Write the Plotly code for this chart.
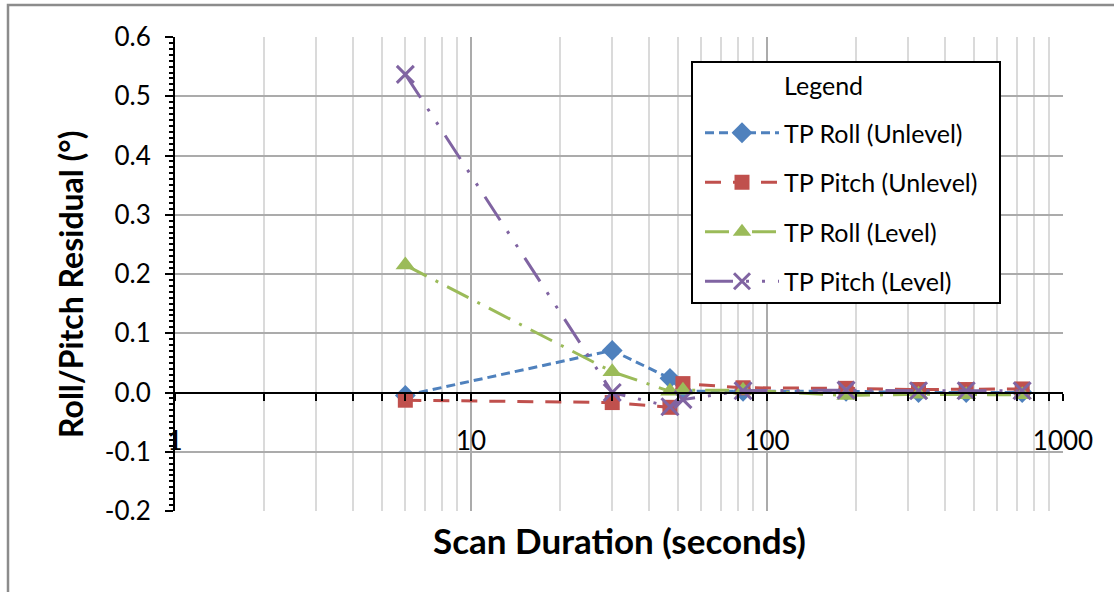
import plotly.graph_objects as go

# ---- data ----
scan_duration = [6, 30, 47, 52, 83, 185, 325, 471, 728]
roll_unlevel = [-0.005, 0.071, 0.024, 0.002, 0.002, 0.002, 0.0, 0.0, 0.0]
pitch_unlevel = [-0.013, -0.017, -0.025, 0.015, 0.008, 0.007, 0.005, 0.005, 0.006]
roll_level = [0.215, 0.035, 0.002, 0.004, 0.004, -0.005, -0.003, -0.004, -0.004]
pitch_level = [0.537, 0.0, -0.024, -0.012, 0.003, 0.004, 0.003, 0.003, 0.003]

series_names = ["TP Roll (Unlevel)", "TP Pitch (Unlevel)", "TP Roll (Level)", "TP Pitch (Level)"]
y_tickvals = [-0.2, -0.1, 0.0, 0.1, 0.2, 0.3, 0.4, 0.5, 0.6]
y_ticktext = ["-0.2", "-0.1", "0.0", "0.1", "0.2", "0.3", "0.4", "0.5", "0.6"]
x_tickvals = [1, 10, 100, 1000]
x_ticktext = ["1", "10", "100", "1000"]
x_minor = [m * d for d in (1, 10, 100) for m in range(2, 10)]
y_minor = [round(-0.2 + 0.01 * i, 2) for i in range(81)]

FONT = "Lato"
BLUE, RED, GREEN, PURPLE = "#4F81BD", "#C0504D", "#9BBB59", "#8064A2"

fig = go.Figure()
styles = [
    (roll_unlevel, BLUE, "9px,5px", dict(symbol="diamond", size=16)),
    (pitch_unlevel, RED, "16px,12px", dict(symbol="square", size=15)),
    (roll_level, GREEN, "24px,10px,3px,10px", dict(symbol="triangle-up", size=17)),
    (pitch_level, PURPLE, "28px,13px,3px,13px,3px,13px", dict(symbol="x-thin", size=17)),
]
for i, (vals, col, dash, mk) in enumerate(styles):
    fig.add_trace(go.Scatter(
        x=scan_duration, y=vals, mode="lines+markers", name=series_names[i],
        legendgroup=f"g{i}",
        line=dict(color=col, width=3, dash=dash),
        marker=dict(color=col, line=dict(color=col, width=3 if mk["symbol"] == "x-thin" else 0), **mk),
    ))

L, R, T, B = 175, 1063, 37, 511
W, H = 1114, 592
def px(x):
    return (x - L) / (R - L)
def py(y):
    return (B - y) / (B - T)

fig.update_layout(
    width=W, height=H,
    margin=dict(l=L, r=W - R, t=T, b=H - B),
    paper_bgcolor="white", plot_bgcolor="white",
    font=dict(family=FONT, size=25, color="black"),
    showlegend=True,
    legend=dict(
        x=px(700), y=py(110), xanchor="left", yanchor="top",
        bgcolor="rgba(0,0,0,0)", borderwidth=0,
        font=dict(family=FONT, size=25, color="black"),
        tracegroupgap=14, itemwidth=74,
    ),
    xaxis=dict(
        type="log", range=[0, 3], anchor="free", position=0.25,
        tickmode="array", tickvals=x_tickvals, ticktext=x_ticktext,
        ticks="outside", ticklen=7, tickwidth=2, tickcolor="black",
        showline=True, linecolor="black", linewidth=2,
        showgrid=True, gridcolor="#ababab", gridwidth=2,
        ticklabelstandoff=18,
        tickfont=dict(family=FONT, size=26, color="black"),
        minor=dict(tickmode="array", tickvals=x_minor, ticks="outside", ticklen=7,
                   tickwidth=2, tickcolor="black", showgrid=True, gridcolor="#dadada", gridwidth=2),
        zeroline=False,
    ),
    yaxis=dict(
        range=[-0.2, 0.6],
        tickmode="array", tickvals=y_tickvals, ticktext=y_ticktext,
        ticks="outside", ticklen=8, tickwidth=2, tickcolor="black",
        showline=True, linecolor="black", linewidth=2,
        showgrid=True, gridcolor="#ababab", gridwidth=2,
        zeroline=False, ticklabelstandoff=9,
        tickfont=dict(family=FONT, size=26, color="black"),
        minor=dict(tickmode="array", tickvals=y_minor, ticks="outside", ticklen=4,
                   tickwidth=1.5, tickcolor="black", showgrid=False),
    ),
    shapes=[
        # legend frame
        dict(type="rect", xref="paper", yref="paper", layer="above",
             x0=px(692), x1=px(1000), y0=py(303), y1=py(62),
             line=dict(color="black", width=2), fillcolor="white"),
        # outer chart border
        dict(type="rect", xref="paper", yref="paper", layer="below",
             x0=px(8), x1=px(1125), y0=py(605), y1=py(5),
             line=dict(color="#8c8c8c", width=2.5), fillcolor="rgba(0,0,0,0)"),
    ],
    annotations=[
        dict(text="Legend", xref="paper", yref="paper", x=px(782), y=py(85),
             xanchor="left", yanchor="middle", showarrow=False,
             font=dict(family=FONT, size=25, color="black")),
        dict(text="<b>Scan Duration (seconds)</b>", xref="paper", yref="paper",
             x=px(619), y=py(540), xanchor="center", yanchor="middle", showarrow=False,
             font=dict(family=FONT, size=35, color="black")),
        dict(text="<b>Roll/Pitch Residual (°)</b>", xref="paper", yref="paper",
             x=px(70), y=py(285), xanchor="center", yanchor="middle", showarrow=False,
             textangle=-90, font=dict(family=FONT, size=32, color="black")),
    ],
)

fig.write_html("out.html")
